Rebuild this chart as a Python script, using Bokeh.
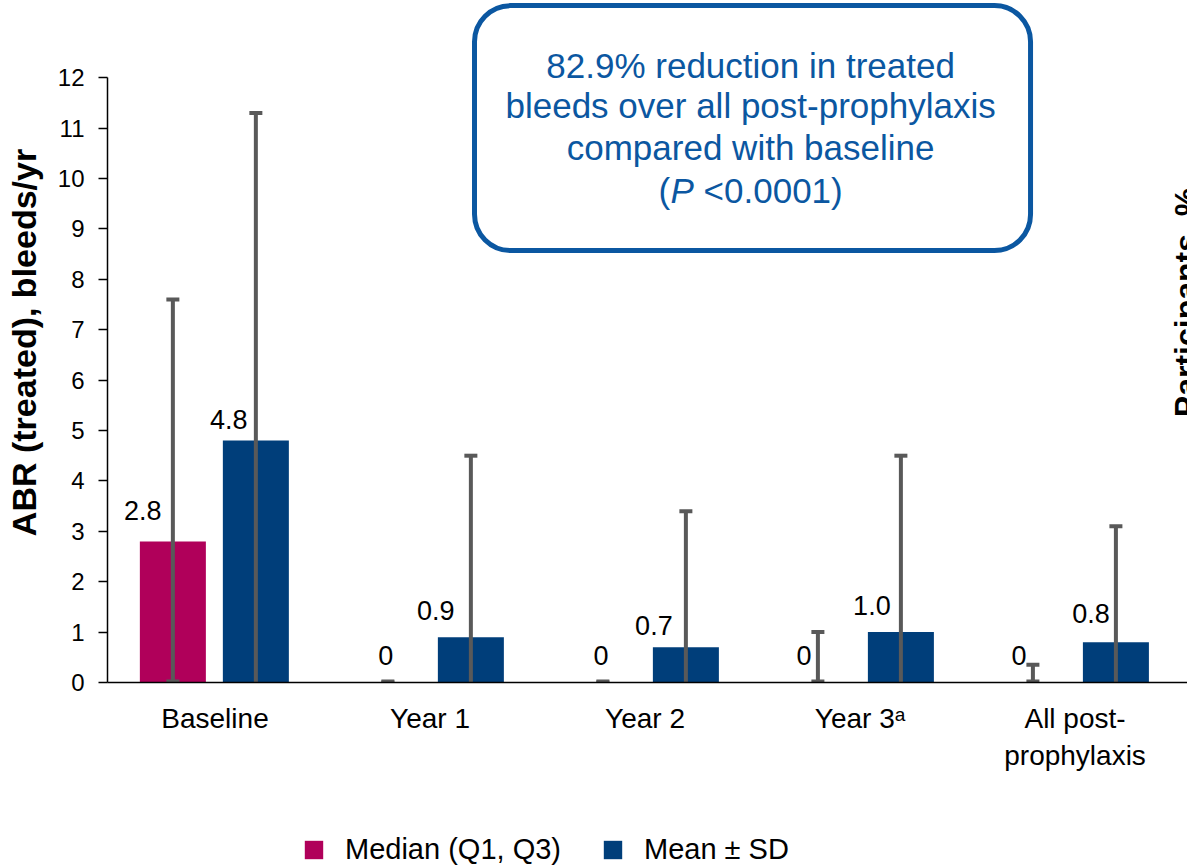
import numpy as np
from bokeh.plotting import figure
from bokeh.layouts import column
from bokeh.models import (ColumnDataSource, FixedTicker, BoxAnnotation, Label,
                          Legend, LegendItem, Range1d)
from bokeh.embed import file_html
from bokeh.resources import INLINE
from bokeh.core.properties import value

# ---------------- data ----------------
categories = ["Baseline", "Year 1", "Year 2", "Year 3\u1d43", "All post-\nprophylaxis"]
median = [2.8, 0, 0, 0, 0]
q1 = [0, 0, 0, 0, 0]
q3 = [7.6, 0, 0, 1.0, 0.35]
mean = [4.8, 0.9, 0.7, 1.0, 0.8]
sd = [6.5, 3.6, 2.7, 3.5, 2.3]
median_labels = ["2.8", "0", "0", "0", "0"]
mean_labels = ["4.8", "0.9", "0.7", "1.0", "0.8"]
y_ticks = list(range(0, 13))
legend_labels = ["Median (Q1, Q3)", "Mean \u00b1 SD"]
box_lines = ["82.9% reduction in treated",
             "bleeds over all post-prophylaxis",
             "compared with baseline"]
p_line = ["(", "P", "<0.0001)"]
y_title = "ABR (treated), bleeds/yr"
right_title = "Participants, %"

# ---------------- layout / style ----------------
FONT = "Liberation Sans"
MAGENTA = "#B0005A"
NAVY = "#003E7A"
GREY = "#595959"
BLUE = "#0B57A1"
# per-label pixel nudges (label placement as in the original slide)
median_dx = [-30, -2, -2, -14, -14]
median_dy = [31, 27, 27, 27, 27]
mean_dx = [-27, -35, -32, -29, -25]
mean_dy = [21, 27, 22, 27, 29]

xs = np.arange(len(categories)) + 0.5
xm = xs - 0.196
xa = xs + 0.19
mean_lo = [max(0.0, m - s) for m, s in zip(mean, sd)]
mean_hi = [m + s for m, s in zip(mean, sd)]

W = 1187
p = figure(width=W, height=821,
           x_range=Range1d(0, 5.023), y_range=Range1d(0, 13.492),
           output_backend="svg", toolbar_location=None,
           min_border_left=107, min_border_right=0, min_border_top=2,
           min_border_bottom=139)
p.outline_line_color = None
p.grid.visible = False
p.background_fill_color = "white"

med_src = ColumnDataSource(dict(x=xm, top=median, lo=q1, hi=q3, label=median_labels,
                                dx=median_dx, dy=[-d for d in median_dy]))
mean_src = ColumnDataSource(dict(x=xa, top=mean, lo=mean_lo, hi=mean_hi, label=mean_labels,
                                 dx=mean_dx, dy=[-d for d in mean_dy]))

bar_w = 0.307
p.vbar(x="x", top="top", width=bar_w, source=med_src, fill_color=MAGENTA, line_color=None)
p.vbar(x="x", top="top", width=bar_w, source=mean_src, fill_color=NAVY, line_color=None)

for src, lower_caps in ((med_src, True), (mean_src, False)):
    p.segment(x0="x", y0="lo", x1="x", y1="hi", source=src, line_color=GREY, line_width=4)
    p.rect(x="x", y="hi", width=13, height=4, width_units="screen", height_units="screen",
           source=src, fill_color=GREY, line_color=None)
    if lower_caps:
        p.rect(x="x", y="lo", width=13, height=6, width_units="screen", height_units="screen",
               source=src, fill_color=GREY, line_color=None)

for src in (med_src, mean_src):
    p.text(x="x", y="top", text="label", x_offset="dx", y_offset="dy", source=src,
           text_align="center", text_baseline="alphabetic",
           text_font=value(FONT), text_font_size="27px", text_color="black")

# axes
p.yaxis.ticker = FixedTicker(ticks=y_ticks)
p.yaxis.bounds = (0, 12)
p.yaxis.major_tick_out = 9
p.yaxis.major_tick_in = 0
p.yaxis.minor_tick_line_color = None
p.yaxis.axis_line_width = 1.5
p.yaxis.major_tick_line_width = 1.5
p.yaxis.major_label_text_font = FONT
p.yaxis.major_label_text_font_size = "24px"
p.yaxis.major_label_text_color = "black"
p.yaxis.major_label_standoff = 14
p.yaxis.axis_label = y_title
p.yaxis.axis_label_text_font = FONT
p.yaxis.axis_label_text_font_size = "34px"
p.yaxis.axis_label_text_font_style = "bold"
p.yaxis.axis_label_text_color = "black"
p.yaxis.axis_label_standoff = 12

p.xaxis.ticker = FixedTicker(ticks=list(xs))
p.xaxis.major_label_overrides = {float(x): c for x, c in zip(xs, categories)}
p.xaxis.major_tick_out = 0
p.xaxis.major_tick_in = 0
p.xaxis.minor_tick_line_color = None
p.xaxis.axis_line_width = 1.5
p.xaxis.major_label_text_font = FONT
p.xaxis.major_label_text_font_size = "28px"
p.xaxis.major_label_text_color = "black"
p.xaxis.major_label_standoff = 20

# callout box
p.add_layout(BoxAnnotation(left=1.707, right=4.293, bottom=8.571, top=13.43,
                           fill_color="white", fill_alpha=1.0,
                           line_color=BLUE, line_alpha=1.0, line_width=5, border_radius=36))
cx = 2.991
for txt, yy in zip(box_lines, [12.24, 11.45, 10.62]):
    p.add_layout(Label(x=cx, y=yy, text=txt, text_align="center", text_baseline="middle",
                       text_font=FONT, text_font_size="35px", text_color=BLUE))
for txt, off, style in zip(p_line, [-92, -80, -47], ["normal", "italic", "normal"]):
    p.add_layout(Label(x=cx, y=9.76, x_offset=off, text=txt, text_align="left",
                       text_baseline="middle", text_font=FONT, text_font_size="35px",
                       text_font_style=style, text_color=BLUE))

# cut-off title of the neighbouring panel
p.add_layout(Label(x=4.93, y=7.54, text=right_title, angle=np.pi / 2,
                   text_align="center", text_baseline="top", text_font=FONT,
                   text_font_size="32px", text_font_style="bold", text_color="black"))

# ---------------- legend strip ----------------
lg = figure(width=W, height=45, x_range=Range1d(0, W), y_range=Range1d(0, 45),
            output_backend="svg", toolbar_location=None,
            min_border_left=0, min_border_right=0, min_border_top=0, min_border_bottom=0)
lg.axis.visible = False
lg.grid.visible = False
lg.outline_line_color = None
# legend key renderers (zero-height, so only their swatches in the legend are seen)
g_med = lg.vbar(x=[500], top=[0], bottom=[0], width=1, fill_color=MAGENTA, line_color=None)
g_mean = lg.vbar(x=[500], top=[0], bottom=[0], width=1, fill_color=NAVY, line_color=None)
legend = Legend(items=[LegendItem(label=legend_labels[0], renderers=[g_med]),
                       LegendItem(label=legend_labels[1], renderers=[g_mean])],
                orientation="horizontal", location=(195, 0),
                glyph_width=23, glyph_height=23, label_standoff=20, spacing=40,
                padding=0, margin=0, border_line_color=None, background_fill_alpha=0,
                label_text_font=FONT, label_text_font_size="29px", label_text_color="black")
lg.add_layout(legend)

layout = column(p, lg, spacing=0)
open("out.html", "w").write(file_html(layout, INLINE))
